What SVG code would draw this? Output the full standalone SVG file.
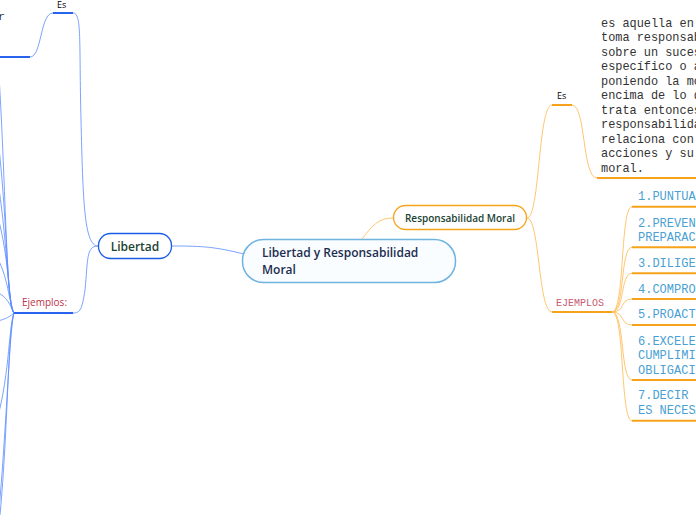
<svg xmlns="http://www.w3.org/2000/svg" width="696" height="520" viewBox="0 0 696 520">
<style>
.bl{fill:none;stroke:#5b8cff;stroke-width:1;opacity:.8}
.bu{fill:none;stroke:#2a62f0;stroke-width:2}
.ol{fill:none;stroke:#ffc060;stroke-width:1;opacity:.9}
.ou{fill:none;stroke:#f7a21b;stroke-width:2}
.node{font-family:"Open Sans","Noto Sans",sans-serif;font-weight:600}
.mono{font-family:"Liberation Mono","DejaVu Sans Mono",monospace}
.para{font-size:11.9px;fill:#333}
.item{font-size:12px;fill:#4a9fd4}
</style>
<rect width="696" height="520" fill="#fff"/>
<g id="connectors">
<path class="bl" d="M171,246 C205,246 215,247 244,254"/>
<path class="ol" d="M362,239 C372,226 378,218 393,218"/>
<path class="bl" d="M98,246 C84,246 83,200 81,120 C79,40 82,13 73,13"/>
<path class="bl" d="M98,246 C86,246 88,260 85,290 C82,310 80,313 73,313"/>
<path class="bl" d="M53,13 C40,13 42,57 30,57"/>
<path class="bl" d="M14,313 C6,308 6,180 -2,60"/>
<path class="bl" d="M14,313 C6,305 8,200 -6,110"/>
<path class="bl" d="M14,313 C7,305 8,230 -6,160"/>
<path class="bl" d="M14,313 C8,305 10,250 -6,205"/>
<path class="bl" d="M14,313 C8,300 8,270 -8,250"/>
<path class="bl" d="M14,313 C8,300 5,295 -8,290"/>
<path class="bl" d="M14,313 C8,318 4,320 -8,322"/>
<path class="bl" d="M14,313 C8,330 10,380 -6,430"/>
<path class="bl" d="M14,313 C8,330 8,430 0,515"/>
<path class="bl" d="M14,313 C9,330 6,450 -4,540"/>
<path class="ol" d="M527,218 C540,218 538,105 552,105"/>
<path class="ol" d="M572,105 C586,105 582,178 597,178"/>
<path class="ol" d="M527,218 C540,218 538,312 552,312"/>
<path class="ol" d="M612,312 C625,312 620,206.7 632,206.7"/>
<path class="ol" d="M612,312 C625,312 620,247.3 632,247.3"/>
<path class="ol" d="M612,312 C625,312 620,273.3 632,273.3"/>
<path class="ol" d="M612,312 C625,312 620,299 632,299"/>
<path class="ol" d="M612,312 C625,312 620,325 632,325"/>
<path class="ol" d="M612,312 C625,312 620,380 632,380"/>
<path class="ol" d="M612,312 C625,312 620,420.7 632,420.7"/>
</g>
<g id="central">
<rect x="242.5" y="239.5" width="213" height="43" rx="21" fill="#f9fdff" stroke="#6fb3e0" stroke-width="1.5"/>
<text class="node" x="262" y="257" font-size="12" fill="#1d2d50">Libertad y Responsabilidad</text>
<text class="node" x="262" y="274" font-size="12" fill="#1d2d50">Moral</text>
</g>
<g id="libertad">
<rect x="98.5" y="233.5" width="73" height="25" rx="12" fill="#fff" stroke="#1a5ce8" stroke-width="1.3"/>
<text class="node" x="135" y="250.5" font-size="12" fill="#1b4332" text-anchor="middle">Libertad</text>
</g>
<g id="es-left">
<path class="bu" d="M53,13 H73"/>
<text x="57" y="8" font-family="'Open Sans',sans-serif" font-size="9" fill="#000">Es</text>
</g>
<g id="def-libertad">
<path class="bu" d="M0,57 H30"/>
<text class="mono" x="-2" y="20" font-size="11.7" fill="#333">r</text>
</g>
<g id="ejemplos-left">
<path class="bu" d="M14,313 H73"/>
<text x="22" y="306" font-family="'Open Sans',sans-serif" font-size="10" fill="#c0304a">Ejemplos:</text>
</g>
<g id="responsabilidad">
<rect x="393.5" y="205.5" width="133" height="24" rx="12" fill="#fff" stroke="#f7a21b" stroke-width="1.3"/>
<text class="node" x="460" y="221.5" font-size="10" fill="#1b4332" text-anchor="middle">Responsabilidad Moral</text>
</g>
<g id="es-right">
<path class="ou" d="M552,105 H572"/>
<text x="557" y="99" font-family="'Open Sans',sans-serif" font-size="9" fill="#000">Es</text>
</g>
<g id="def-resp">
<path class="ou" d="M597,178 H700"/>
<text class="mono para">
<tspan x="601" y="26.5">es aquella en la que</tspan>
<tspan x="601" y="41">toma responsabilidad</tspan>
<tspan x="601" y="55.5">sobre un suceso</tspan>
<tspan x="601" y="70">específico o acción</tspan>
<tspan x="601" y="84.5">poniendo la moral por</tspan>
<tspan x="601" y="99">encima de lo demás. Se</tspan>
<tspan x="601" y="113.5">trata entonces de una</tspan>
<tspan x="601" y="128">responsabilidad que se</tspan>
<tspan x="601" y="142.5">relaciona con nuestras</tspan>
<tspan x="601" y="157">acciones y su valoración</tspan>
<tspan x="601" y="171.5">moral.</tspan>
</text>
</g>
<g id="ejemplos-right">
<path class="ou" d="M552,312 H612"/>
<text class="mono" x="556" y="306" font-size="10" fill="#c85a70">EJEMPLOS</text>
</g>
<g id="item1"><path class="ou" d="M632,206.7 H700"/><text class="mono item" x="638" y="200">1.PUNTUALIDAD</text></g>
<g id="item2"><path class="ou" d="M632,247.3 H700"/><text class="mono item"><tspan x="638" y="226.5">2.PREVENCIÓN Y</tspan><tspan x="638" y="241">PREPARACIÓN</tspan></text></g>
<g id="item3"><path class="ou" d="M632,273.3 H700"/><text class="mono item" x="638" y="266.5">3.DILIGENCIA</text></g>
<g id="item4"><path class="ou" d="M632,299 H700"/><text class="mono item" x="638" y="292.5">4.COMPROMISO</text></g>
<g id="item5"><path class="ou" d="M632,325 H700"/><text class="mono item" x="638" y="318">5.PROACTIVIDAD</text></g>
<g id="item6"><path class="ou" d="M632,380 H700"/><text class="mono item"><tspan x="638" y="345">6.EXCELENCIA EN EL</tspan><tspan x="638" y="359">CUMPLIMIENTO DE</tspan><tspan x="638" y="373.5">OBLIGACIONES</tspan></text></g>
<g id="item7"><path class="ou" d="M632,420.7 H700"/><text class="mono item"><tspan x="638" y="399">7.DECIR NO CUANDO</tspan><tspan x="638" y="414">ES NECESARIO</tspan></text></g>
</svg>
